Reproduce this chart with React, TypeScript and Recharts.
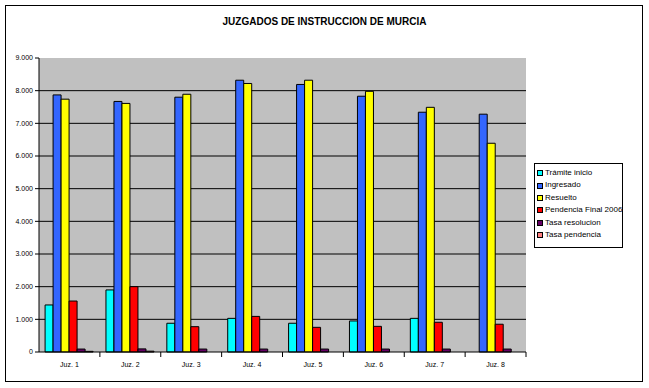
import React from 'react';
import { BarChart, Bar, XAxis, YAxis, CartesianGrid } from 'recharts';

const categories = ['Juz. 1', 'Juz. 2', 'Juz. 3', 'Juz. 4', 'Juz. 5', 'Juz. 6', 'Juz. 7', 'Juz. 8'];
const tramiteInicio = [1440, 1900, 880, 1030, 880, 950, 1030, 0];
const ingresado = [7870, 7670, 7800, 8320, 8190, 7830, 7340, 7280];
const resuelto = [7740, 7610, 7890, 8220, 8320, 7980, 7490, 6390];
const pendencia = [1560, 2000, 775, 1090, 755, 785, 910, 850];
const tasaResolucion = [90, 95, 90, 90, 90, 90, 90, 90];
const tasaPendencia = [20, 25, 0, 0, 0, 0, 0, 0];
const yTicks = [0, 1000, 2000, 3000, 4000, 5000, 6000, 7000, 8000, 9000];

const series = [
  { key: 'tramite', name: 'Trámite inicio', color: '#00FFFF' },
  { key: 'ingresado', name: 'Ingresado', color: '#3366FF' },
  { key: 'resuelto', name: 'Resuelto', color: '#FFFF00' },
  { key: 'pendencia', name: 'Pendencia Final 2006', color: '#FF0000' },
  { key: 'tasaRes', name: 'Tasa resolucion', color: '#660066' },
  { key: 'tasaPend', name: 'Tasa pendencia', color: '#FF8080' },
];

const data = categories.map((name, i) => ({
  name,
  tramite: tramiteInicio[i],
  ingresado: ingresado[i],
  resuelto: resuelto[i],
  pendencia: pendencia[i],
  tasaRes: tasaResolucion[i],
  tasaPend: tasaPendencia[i],
}));

const fmt = (v: number) => String(v).replace(/\B(?=(\d{3})+(?!\d))/g, '.');

const W = 649;
const H = 388;
const M = { top: 58, right: 123, bottom: 16, left: 0 };
const band = (W - 39 - M.right) / categories.length;
const font = 'Arial, "Liberation Sans", sans-serif';

function XTick(props: any) {
  const { x, y, payload } = props;
  return (
    <g>
      <line x1={x + band / 2} y1={y - 8} x2={x + band / 2} y2={y - 3} stroke="#000" />
      <text x={x} y={y + 7} textAnchor="middle" fontSize={7} fill="#000">
        {payload.value}
      </text>
    </g>
  );
}

function LegendBox() {
  return (
    <div
      style={{
        position: 'absolute',
        left: 534,
        top: 163,
        width: 82,
        height: 77,
        border: '1px solid #000',
        background: '#fff',
        padding: '3px 3px 3px 2px',
        fontFamily: font,
        fontSize: 8,
        lineHeight: '12.4px',
      }}
    >
      {series.map((s) => (
        <div key={s.key} style={{ display: 'flex', alignItems: 'center', whiteSpace: 'nowrap' }}>
          <span
            style={{
              display: 'inline-block',
              flexShrink: 0,
              width: 4,
              height: 4,
              border: '1px solid #000',
              background: s.color,
              marginRight: 2,
            }}
          />
          {s.name}
        </div>
      ))}
    </div>
  );
}

export default function App() {
  return (
    <div style={{ position: 'absolute', left: 0, top: 0, width: W, height: H, background: '#fff' }}>
      <div
        style={{
          position: 'absolute',
          left: 5,
          top: 5,
          width: 636,
          height: 375,
          border: '1px solid #000',
        }}
      />
      <div
        style={{
          position: 'absolute',
          left: 0,
          top: 16,
          width: 649,
          textAlign: 'center',
          fontFamily: font,
          fontWeight: 'bold',
          fontSize: 10,
        }}
      >
        JUZGADOS DE INSTRUCCION DE MURCIA
      </div>
      <div style={{ position: 'absolute', left: 0, top: 0 }}>
        <BarChart
          width={W}
          height={H}
          data={data}
          margin={M}
          barCategoryGap="10%"
          barGap={0}
          style={{ fontFamily: font }}
        >
          <CartesianGrid
            vertical={false}
            stroke="#000"
            strokeWidth={1}
            fill="#C0C0C0"
            fillOpacity={1}
            horizontalValues={[1000, 2000, 3000, 4000, 5000, 6000, 7000, 8000]}
          />
          <XAxis
            dataKey="name"
            stroke="#000"
            tickLine={false}
            tick={<XTick />}
            interval={0}
            height={20}
          />
          <YAxis
            domain={[0, 9000]}
            ticks={yTicks}
            tickFormatter={fmt}
            stroke="#000"
            tickSize={4}
            width={39}
            tick={{ fontSize: 7, fill: '#000' }}
            interval={0}
          />
          {series.map((s) => (
            <Bar
              key={s.key}
              dataKey={s.key}
              name={s.name}
              fill={s.color}
              stroke="#000"
              strokeWidth={1}
              isAnimationActive={false}
            />
          ))}
        </BarChart>
      </div>
      <LegendBox />
    </div>
  );
}
